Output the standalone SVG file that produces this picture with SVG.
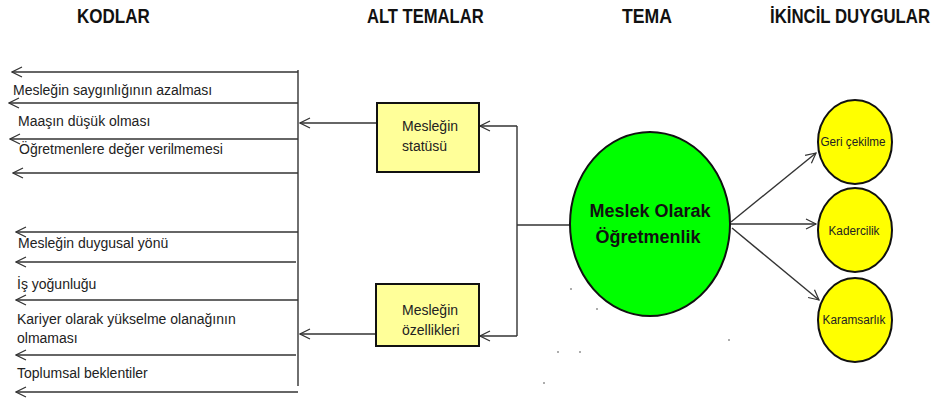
<svg xmlns="http://www.w3.org/2000/svg" width="946" height="401" viewBox="0 0 946 401">
<defs>
<marker id="arr" markerUnits="userSpaceOnUse" markerWidth="14" markerHeight="14" viewBox="-1 -7 13 14" refX="0" refY="0" orient="auto">
<path d="M10,-5 L0,0 L10,5" fill="none" stroke="#333" stroke-width="1.2"/>
</marker>
<style>
.hdr{font-family:"Liberation Sans",Arial,sans-serif;font-weight:bold;font-size:21px;fill:#111}
.code{font-family:"Liberation Sans",Arial,sans-serif;font-size:14px;fill:#222}
.box{fill:#FFFF99;stroke:#111;stroke-width:2}
.btxt{font-family:"Liberation Sans",Arial,sans-serif;font-size:14px;fill:#222}
.ln{fill:none;stroke:#333;stroke-width:1.4}
.arrow{fill:none;stroke:#333;stroke-width:1.4;marker-start:url(#arr)}
.yc{fill:#FFFF00;stroke:#111;stroke-width:2}
.ytxt{font-family:"Liberation Sans",Arial,sans-serif;font-size:12.5px;fill:#222;text-anchor:middle}
.dot{fill:#444}
</style>
</defs>
<g id="headers">
<text class="hdr" transform="translate(77,23) scale(0.81,1)" x="0" y="0">KODLAR</text>
<text class="hdr" transform="translate(367,23) scale(0.79,1)" x="0" y="0">ALT TEMALAR</text>
<text class="hdr" transform="translate(622,23) scale(0.84,1)" x="0" y="0">TEMA</text>
<text class="hdr" transform="translate(770,23) scale(0.8,1)" x="0" y="0">İKİNCİL DUYGULAR</text>
</g>
<g id="connectors">
<line class="ln" x1="298" y1="70" x2="298" y2="386"/>
<path class="arrow" d="M12,72 L298,72"/>
<path class="arrow" d="M9,103 L298,103"/>
<path class="arrow" d="M10,139 L298,139"/>
<path class="arrow" d="M13,173 L298,173"/>
<path class="arrow" d="M16,232 L298,232"/>
<path class="arrow" d="M16,262 L296,262"/>
<path class="arrow" d="M16,300 L298,300"/>
<path class="arrow" d="M16,355 L296,355"/>
<path class="arrow" d="M16,392 L298,392"/>
<path class="arrow" d="M300,123 L377,123"/>
<path class="arrow" d="M300,334 L376,334"/>
<line class="ln" x1="517" y1="126" x2="517" y2="336"/>
<path class="arrow" d="M480,126 L517,126"/>
<path class="arrow" d="M480,336 L517,336"/>
<line class="ln" x1="517" y1="225" x2="571" y2="225"/>
<path class="arrow" d="M816,153 L731,222"/>
<path class="arrow" d="M816,224 L731,224"/>
<path class="arrow" d="M819,300 L732,228"/>
</g>
<g id="codes">
<text class="code" x="13" y="95">Mesleğin saygınlığının azalması</text>
<text class="code" x="18" y="126">Maaşın düşük olması</text>
<text class="code" x="19" y="154">Öğretmenlere değer verilmemesi</text>
<text class="code" x="18" y="248">Mesleğin duygusal yönü</text>
<text class="code" x="17" y="289">İş yoğunluğu</text>
<text class="code" x="17" y="324">Kariyer olarak yükselme olanağının</text>
<text class="code" x="17" y="343">olmaması</text>
<text class="code" x="17" y="378">Toplumsal beklentiler</text>
</g>
<g id="node-statusu">
<rect class="box" x="377" y="103" width="102" height="69"/>
<text class="btxt" x="402" y="131">Mesleğin</text>
<text class="btxt" x="402" y="151">statüsü</text>
</g>
<g id="node-ozellikleri">
<rect class="box" x="376" y="284" width="103" height="62"/>
<text class="btxt" x="402" y="315">Mesleğin</text>
<text class="btxt" x="402" y="335">özellikleri</text>
</g>
<g id="node-tema">
<ellipse cx="650" cy="224" rx="80" ry="92" fill="#00FF00" stroke="#111" stroke-width="2"/>
<text x="650" y="217" text-anchor="middle" font-family="Liberation Sans, Arial, sans-serif" font-weight="bold" font-size="18" fill="#111">Meslek Olarak</text>
<text x="648" y="243" text-anchor="middle" font-family="Liberation Sans, Arial, sans-serif" font-weight="bold" font-size="18" fill="#111">Öğretmenlik</text>
</g>
<g id="node-geri">
<ellipse class="yc" cx="855" cy="142" rx="37" ry="42"/>
<text class="ytxt" x="853" y="146" textLength="65" lengthAdjust="spacingAndGlyphs">Geri çekilme</text>
</g>
<g id="node-kadercilik">
<ellipse class="yc" cx="855" cy="230" rx="37" ry="42"/>
<text class="ytxt" x="854" y="235" textLength="51" lengthAdjust="spacingAndGlyphs">Kadercilik</text>
</g>
<g id="node-karamsarlik">
<ellipse class="yc" cx="855" cy="320" rx="37" ry="42"/>
<text class="ytxt" x="854" y="324" textLength="63" lengthAdjust="spacingAndGlyphs">Karamsarlık</text>
</g>
<g id="specks">
<circle class="dot" cx="571" cy="289" r="0.8"/>
<circle class="dot" cx="597" cy="309" r="0.8"/>
<circle class="dot" cx="558" cy="352" r="0.8"/>
<circle class="dot" cx="580" cy="352" r="0.8"/>
<circle class="dot" cx="544" cy="383" r="0.8"/>
<circle class="dot" cx="729" cy="340" r="0.8"/>
</g>
</svg>
